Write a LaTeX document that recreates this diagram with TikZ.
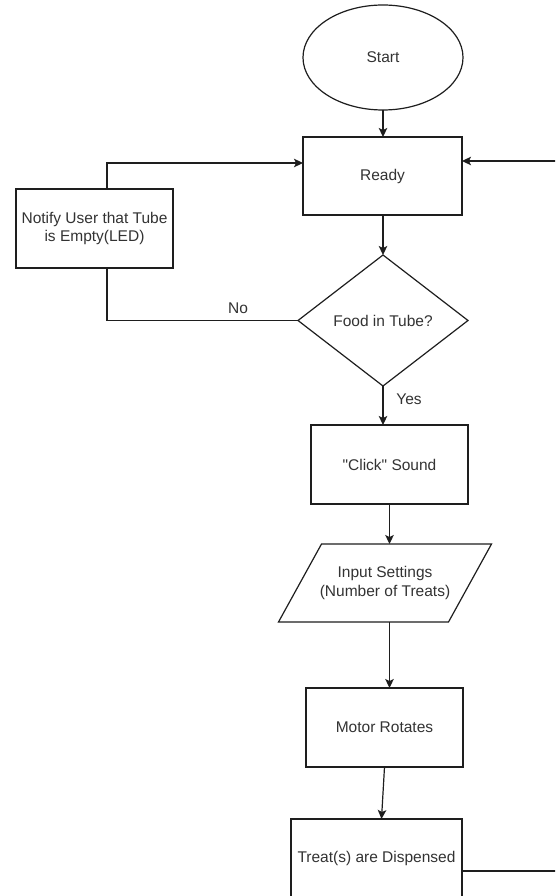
\documentclass[tikz,border=0pt]{standalone}
\usepackage{fontspec}
\setmainfont{Liberation Sans}[Ligatures=TeXOff]
\usetikzlibrary{shapes.geometric,arrows.meta}
\definecolor{inkline}{HTML}{1E1E1E}
\definecolor{inktext}{HTML}{333333}
\begin{document}
\begin{tikzpicture}[x=1pt,y=-1pt,
  every node/.style={font=\fontsize{15.5}{18.5}\selectfont, text=inktext, outer sep=0pt},
  box/.style={draw=inkline, line width=1.2pt, rectangle, align=center, inner sep=2pt},
  wire/.style={draw=inkline, line width=1.2pt},
  arr/.style={wire, -{Stealth[length=9pt,width=8.5pt,inset=2pt]}},
  lbl/.style={inner sep=1pt}
]
% canvas
\useasboundingbox (0,0) rectangle (555,896);
\fill[white] (0,0) rectangle (555,896);
\clip (0,0) rectangle (555,896);

% steps of the flow
\node[draw=inkline, line width=1.2pt, ellipse, minimum width=160, minimum height=105, inner sep=0pt] (start) at (383,57.5) {Start};
\node[box, minimum width=159, minimum height=78] (ready) at (382.5,176) {Ready};
\node[box, minimum width=157, minimum height=79] (notify) at (94.5,228.5) {Notify User that Tube\\is Empty(LED)};
\node[draw=inkline, line width=1.2pt, diamond, minimum width=170, minimum height=131, inner sep=0pt] (food) at (383,320.5) {Food in Tube?};
\node[box, minimum width=157, minimum height=79] (click) at (389.5,464.5) {"Click" Sound};
\node[minimum width=166, minimum height=78, align=center, inner sep=0pt] (input) at (385,583) {Input Settings\\(Number of Treats)};
\draw[wire] (input.center) ++(-63.5,-39) -- ++(170,0) -- ++(-43,78) -- ++(-170,0) -- cycle;
\node[box, minimum width=157, minimum height=79] (motor) at (384.5,727.5) {Motor Rotates};
\node[box, minimum width=171, minimum height=79] (treat) at (376.5,858.5) {Treat(s) are Dispensed};

% branch labels
\node[lbl] (nolbl) at (238,308.5) {No};
\node[lbl] (yeslbl) at (409,399.5) {Yes};

% connectors
\draw[arr] (start.south) -- (start.south |- ready.north);
\draw[arr] (food.north |- ready.south) -- (food.north);
\draw[arr] (food.south) -- (food.south |- click.north);
\draw[arr] (click.south) -- (click.south |- input.north);
\draw[arr] (click.south |- input.south) -- (click.south |- motor.north);
\draw[arr] (motor.south) -- ([xshift=5pt]treat.north);
\draw[wire] (food.west) -| ([xshift=12.5pt]notify.south);
\draw[arr] ([xshift=12.5pt]notify.north) |- ([yshift=13pt]ready.west);
\coordinate (loopR) at (590,500);
\draw[arr] ([yshift=-12.5pt]treat.east) -| (loopR) |- ([yshift=15pt]ready.east);
\end{tikzpicture}
\end{document}
